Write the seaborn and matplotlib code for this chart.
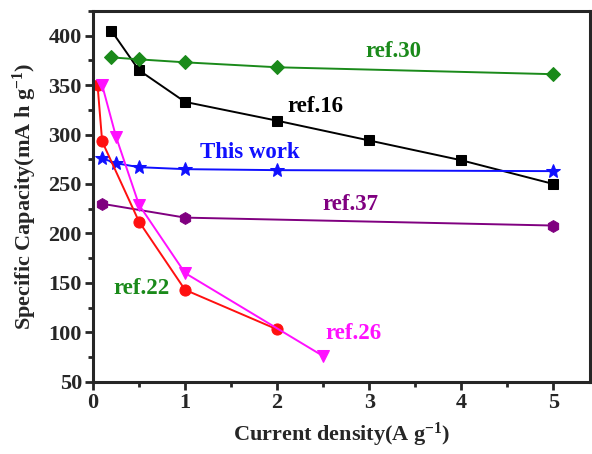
import pandas as pd
import matplotlib.pyplot as plt
import seaborn as sns
from matplotlib.ticker import MultipleLocator

# values
x_ref16 = [0.2, 0.5, 1, 2, 3, 4, 5]
y_ref16 = [405, 365, 333, 314, 294, 274, 250]
x_ref30 = [0.2, 0.5, 1, 2, 5]
y_ref30 = [378, 376, 373, 368, 361]
x_this = [0.1, 0.25, 0.5, 1, 2, 5]
y_this = [276, 271, 267, 265, 264, 263]
x_ref37 = [0.1, 1, 5]
y_ref37 = [230, 216, 208]
x_ref22 = [0.05, 0.1, 0.5, 1, 2]
y_ref22 = [350, 293, 212, 143, 103]
x_ref26 = [0.1, 0.25, 0.5, 1, 2.5]
y_ref26 = [350, 298, 229, 160, 76]

sns.set_style('ticks')
plt.rcParams['font.family'] = ['Liberation Serif', 'DejaVu Serif']
plt.rcParams['font.weight'] = 'bold'
plt.rcParams['mathtext.fontset'] = 'custom'
plt.rcParams['mathtext.rm'] = 'Liberation Serif:bold'
plt.rcParams['mathtext.default'] = 'rm'

series = [
    ('ref.16', x_ref16, y_ref16, 'black', 's', 7),
    ('ref.30', x_ref30, y_ref30, '#1a8a1a', 'D', 7.5),
    ('This work', x_this, y_this, '#1010ff', '*', 10),
    ('ref.37', x_ref37, y_ref37, '#800080', 'h', 8.5),
    ('ref.22', x_ref22, y_ref22, '#ff1010', 'o', 8),
    ('ref.26', x_ref26, y_ref26, '#ff10ff', 'v', 9),
]

fig = plt.figure(figsize=(5.92, 4.54), dpi=100)
ax = fig.add_axes([0.157, 0.159, 0.84, 0.817])

for name, xs, ys, c, m, ms in series:
    d = pd.DataFrame({'x': xs, 'y': ys})
    sns.lineplot(data=d, x='x', y='y', ax=ax, color=c, marker=m, markersize=ms,
                 markeredgecolor=c, linewidth=1.4, sort=False)

# series labels
labels = [
    ('ref.30', 3.26, 384, '#1a8a1a'),
    ('ref.16', 2.41, 328, 'black'),
    ('This work', 1.7, 282, '#1010ff'),
    ('ref.37', 2.8, 229, '#800080'),
    ('ref.22', 0.53, 144, '#1a8a1a'),
    ('ref.26', 2.83, 99, '#ff10ff'),
]
for t, x, y, c in labels:
    ax.text(x, y, t, color=c, fontsize=16.5, fontweight='bold', ha='center', va='center')

ax.set_xlim(0, 5.4)
ax.set_ylim(50, 425)
ax.xaxis.set_major_locator(MultipleLocator(1))
ax.xaxis.set_minor_locator(MultipleLocator(0.5))
ax.yaxis.set_major_locator(MultipleLocator(50))
ax.yaxis.set_minor_locator(MultipleLocator(25))
ax.tick_params(which='major', length=6, width=2, labelsize=16, direction='out', pad=2)
ax.tick_params(which='minor', length=3.5, width=2, direction='out')
for s in ax.spines.values():
    s.set_linewidth(2.2)
    s.set_visible(True)

ax.set_xlabel('Current density(A g$^{-1}$)', fontsize=16, fontweight='bold', labelpad=6)
ax.set_ylabel('Specific Capacity(mA h g$^{-1}$)', fontsize=16, fontweight='bold', labelpad=7)

fig.savefig('out.png', dpi=100)
